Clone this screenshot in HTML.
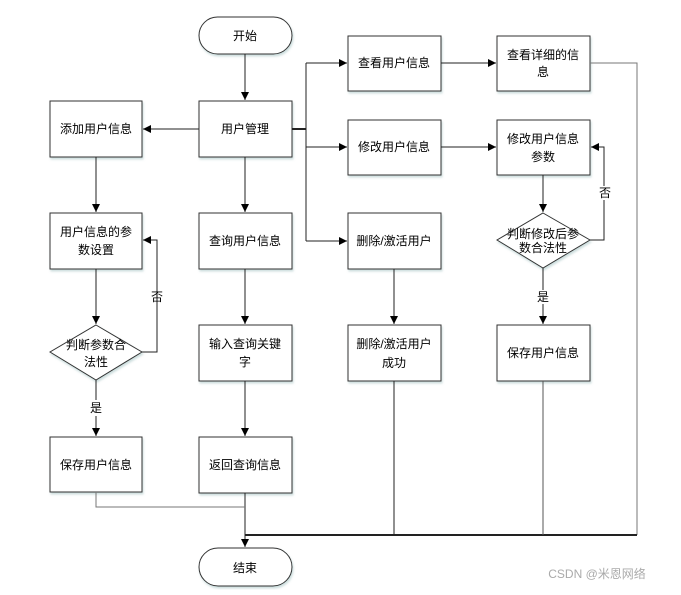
<!DOCTYPE html>
<html><head><meta charset="utf-8"><style>
body{margin:0;background:#fff}
svg text{font-family:"Liberation Sans","Noto Sans CJK SC",sans-serif;font-size:12px;fill:#000;text-anchor:middle}
</style></head><body>
<svg width="681" height="590" viewBox="0 0 681 590" xmlns="http://www.w3.org/2000/svg">
<defs><marker id="a" markerWidth="10" markerHeight="10" refX="8" refY="4" orient="auto" markerUnits="userSpaceOnUse"><path d="M0,0 L8,4 L0,8 z" fill="#000"/></marker>
<filter id="s"><feDropShadow dx="1" dy="2" stdDeviation="1" flood-color="#9bb" flood-opacity="0.5"/></filter></defs>
<g fill="#fff" stroke="#333" stroke-width="1" filter="url(#s)">
<rect x="199" y="17" width="93" height="37" rx="18.5"/>
<rect x="199" y="548" width="93" height="38" rx="19"/>
<rect x="199" y="101" width="93" height="56"/>
<rect x="50" y="101" width="92" height="56"/>
<rect x="50" y="213" width="92" height="56"/>
<polygon points="96,325 142,352 96,380 50,352"/>
<rect x="50" y="437" width="92" height="55"/>
<rect x="199" y="213" width="93" height="56"/>
<rect x="199" y="325" width="93" height="56"/>
<rect x="199" y="437" width="93" height="56"/>
<rect x="348" y="36" width="93" height="55"/>
<rect x="348" y="120" width="93" height="55"/>
<rect x="348" y="213" width="93" height="56"/>
<rect x="348" y="325" width="93" height="56"/>
<rect x="497" y="36" width="93" height="55"/>
<rect x="497" y="120" width="93" height="55"/>
<polygon points="543,213 590,240 543,268 497,240"/>
<rect x="497" y="325" width="93" height="56"/>
</g>
<g stroke="#222" stroke-width="1" fill="none">
<line x1="245" y1="54" x2="245" y2="100" marker-end="url(#a)"/>
<line x1="199" y1="129" x2="143" y2="129" marker-end="url(#a)"/>
<line x1="96" y1="157" x2="96" y2="212" marker-end="url(#a)"/>
<line x1="96" y1="269" x2="96" y2="324" marker-end="url(#a)"/>
<line x1="96" y1="380" x2="96" y2="400"/>
<line x1="96" y1="416" x2="96" y2="436" marker-end="url(#a)"/>
<polyline points="142,352 157,352 157,290"/>
<polyline points="157,304 157,240 143,240" marker-end="url(#a)"/>
<line x1="245" y1="157" x2="245" y2="212" marker-end="url(#a)"/>
<line x1="245" y1="269" x2="245" y2="324" marker-end="url(#a)"/>
<line x1="245" y1="381" x2="245" y2="436" marker-end="url(#a)"/>
<line x1="245" y1="493" x2="245" y2="547" marker-end="url(#a)"/>
<polyline points="292,129 306,129" stroke-width="2"/>
<line x1="306" y1="63" x2="306" y2="241"/>
<line x1="306" y1="63" x2="347" y2="63" marker-end="url(#a)"/>
<line x1="306" y1="147" x2="347" y2="147" marker-end="url(#a)"/>
<line x1="306" y1="241" x2="347" y2="241" marker-end="url(#a)"/>
<line x1="394" y1="269" x2="394" y2="324" marker-end="url(#a)"/>
<line x1="441" y1="63" x2="496" y2="63" marker-end="url(#a)"/>
<line x1="441" y1="147" x2="496" y2="147" marker-end="url(#a)"/>
<line x1="543" y1="175" x2="543" y2="212" marker-end="url(#a)"/>
<line x1="543" y1="268" x2="543" y2="290"/>
<line x1="543" y1="304" x2="543" y2="324" marker-end="url(#a)"/>
<polyline points="590,240 604,240 604,200"/>
<polyline points="604,186 604,147 591,147" marker-end="url(#a)"/>
<polyline points="590,63 637,63 637,535" stroke="#777"/>
<polyline points="96,492 96,507 245,507" stroke="#777"/>
<line x1="245" y1="535" x2="637" y2="535" stroke-width="2"/>
<line x1="394" y1="381" x2="394" y2="535"/>
<line x1="543" y1="381" x2="543" y2="535" stroke="#555"/>
</g>
<text x="245" y="40">开始</text>
<text x="245" y="572">结束</text>
<text x="245" y="133">用户管理</text>
<text x="96" y="133">添加用户信息</text>
<text x="96" y="236">用户信息的参</text>
<text x="96" y="254">数设置</text>
<text x="96" y="349" font-size="11">判断参数合</text>
<text x="96" y="366" font-size="11">法性</text>
<text x="96" y="469">保存用户信息</text>
<text x="96" y="412" font-size="11">是</text>
<text x="157" y="301" font-size="11">否</text>
<text x="245" y="245">查询用户信息</text>
<text x="245" y="348">输入查询关键</text>
<text x="245" y="366">字</text>
<text x="245" y="469">返回查询信息</text>
<text x="394" y="67">查看用户信息</text>
<text x="394" y="151">修改用户信息</text>
<text x="394" y="245">删除/激活用户</text>
<text x="394" y="348">删除/激活用户</text>
<text x="394" y="367">成功</text>
<text x="543" y="59">查看详细的信</text>
<text x="543" y="76">息</text>
<text x="543" y="143">修改用户信息</text>
<text x="543" y="161">参数</text>
<text x="543" y="238" font-size="11">判断修改后参</text>
<text x="543" y="252" font-size="11">数合法性</text>
<text x="543" y="301" font-size="11">是</text>
<text x="605" y="197" font-size="11">否</text>
<text x="543" y="357">保存用户信息</text>
<text x="597" y="578" font-size="15" fill="#999" style="fill:#aaa">CSDN @米恩网络</text>
</svg>
</body></html>
